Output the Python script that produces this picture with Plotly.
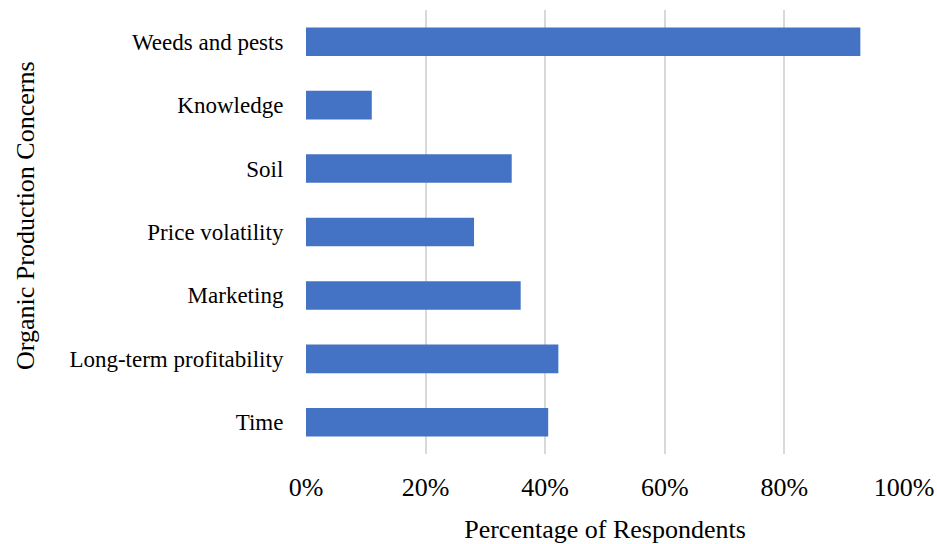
import plotly.graph_objects as go

categories = ["Weeds and pests", "Knowledge", "Soil", "Price volatility",
              "Marketing", "Long-term profitability", "Time"]
values = [0.927, 0.110, 0.344, 0.281, 0.359, 0.422, 0.405]
x_ticks = [0, 0.2, 0.4, 0.6, 0.8, 1.0]
x_tick_labels = ["0%", "20%", "40%", "60%", "80%", "100%"]

fig = go.Figure(go.Bar(
    x=values, y=categories, orientation="h",
    marker=dict(color="#4472C4", line=dict(width=0)),
))

font_family = "Liberation Serif"
L, R, T, B = 306, 33, 10, 90
W, H = 937, 544
fig.update_layout(
    width=W, height=H,
    margin=dict(l=L, r=R, t=T, b=B, autoexpand=False),
    paper_bgcolor="white", plot_bgcolor="white",
    bargap=0.55,
    showlegend=False,
    font=dict(family=font_family, color="black"),
    xaxis=dict(
        range=[0, 1.0], tickvals=x_ticks, ticktext=x_tick_labels,
        showgrid=True, gridcolor="#d9d9d9", gridwidth=2,
        zeroline=False, showline=False,
        ticks="outside", ticklen=10, tickcolor="rgba(0,0,0,0)",
        tickfont=dict(size=26, family=font_family),
        title=dict(text="Percentage of Respondents", font=dict(size=26, family=font_family), standoff=19),
    ),
    yaxis=dict(
        autorange="reversed",
        showgrid=False, zeroline=False, showline=False,
        ticks="outside", ticklen=17, tickcolor="rgba(0,0,0,0)",
        tickfont=dict(size=23, family=font_family),
    ),
)

plot_h = H - T - B
fig.add_annotation(
    text="Organic Production Concerns",
    xref="paper", yref="paper",
    x=(25 - L) / (W - L - R), y=(H - B - 216) / plot_h,
    xanchor="center", yanchor="middle",
    textangle=-90, showarrow=False,
    font=dict(size=26, family=font_family, color="black"),
)

fig.write_html("out.html")
